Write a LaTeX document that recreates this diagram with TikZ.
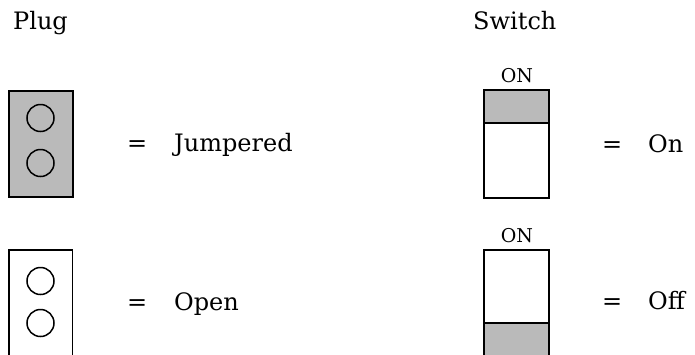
\documentclass[tikz,border=0pt]{standalone}
\usepackage{fontspec}
\setmainfont{DejaVu Serif}
\begin{document}
\begin{tikzpicture}[x=1pt,y=-1pt,
  lbl/.style={inner sep=0pt,anchor=base west,font=\fontsize{24}{28}\selectfont},
  small/.style={inner sep=0pt,anchor=base,font=\fontsize{19}{22}\selectfont},
  box/.style={draw=black,line width=1.8pt},
  shade/.style={fill=black!27},
  hole/.style={circle,draw=black,line width=1.5pt,minimum size=27pt,inner sep=0pt}]
\useasboundingbox (0,0) rectangle (695,354);
\clip (0,0) rectangle (695,354);
% headings
\node[lbl] (plug) at (13,29.5) {Plug};
\node[lbl] (switch) at (473,29.5) {Switch};
% jumpered plug
\node[box,shade,rectangle,minimum width=64pt,minimum height=106pt,inner sep=0pt] (pj) at (41,144) {};
\node[hole] (pj1) at (40.5,118) {};
\node[hole] (pj2) at (40.5,163) {};
\node[lbl] (eq1) at (127,151) {=};
\node[lbl] (jmp) at (174,151) {Jumpered};
% open plug
\draw[box] (9,370) -- (9,250) -- (72.5,250) -- (72.5,370);
\node[hole] (po1) at (40.5,281) {};
\node[hole] (po2) at (40.5,323) {};
\node[lbl] (eq2) at (127,310) {=};
\node[lbl] (opn) at (174,310) {Open};
% switch on
\fill[shade] (484,90) rectangle (549,123);
\draw[box] (484,90) rectangle (549,198);
\draw[box] (484,123) -- (549,123);
\node[small] (on1) at (517,82) {ON};
\node[lbl] (eq3) at (602,152) {=};
\node[lbl] (son) at (648,152) {On};
% switch off
\fill[shade] (484,323) rectangle (549,370);
\draw[box] (484,370) -- (484,250) -- (549,250) -- (549,370);
\draw[box] (484,323) -- (549,323);
\node[small] (on2) at (517,242) {ON};
\node[lbl] (eq4) at (602,309) {=};
\node[lbl] (soff) at (648,309) {Off};
\end{tikzpicture}
\end{document}
